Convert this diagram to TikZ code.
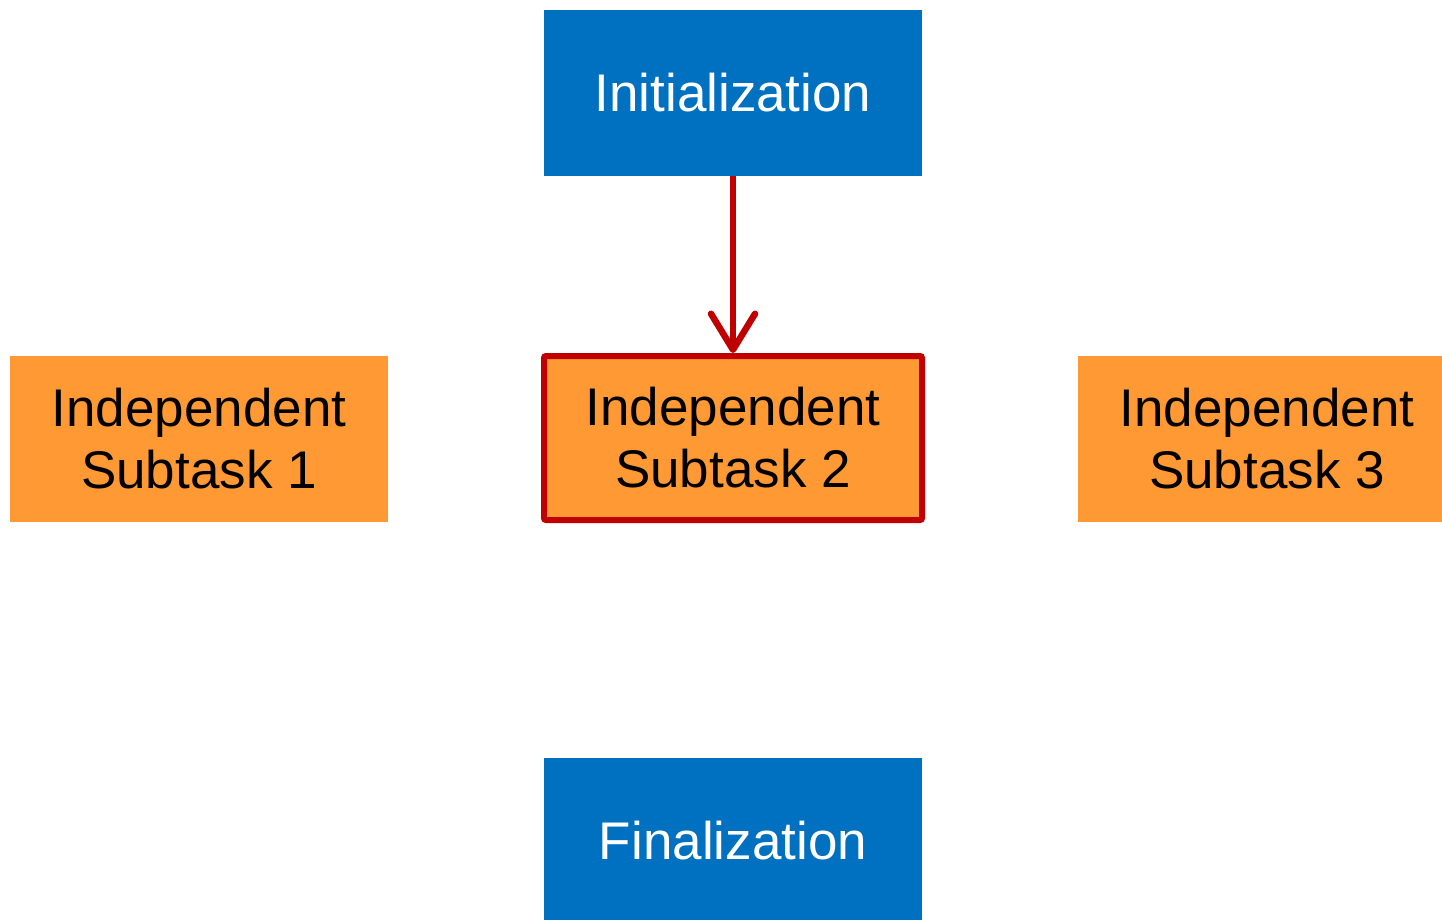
\documentclass[tikz,border=0pt]{standalone}
\usepackage{fontspec}
\setmainfont{Liberation Sans}
\usetikzlibrary{arrows.meta}
\definecolor{stageblue}{HTML}{0070C0}
\definecolor{taskorange}{HTML}{FF9933}
\definecolor{hilite}{HTML}{C00000}
\tikzset{
  stage/.style={fill=stageblue, text=white, minimum width=378pt, minimum height=166pt,
    inner sep=0pt, font=\fontsize{53}{62}\selectfont},
  task/.style={fill=taskorange, text=black, minimum width=378pt, minimum height=166pt,
    inner sep=0pt, align=center, font=\fontsize{53}{62}\selectfont},
  chosen/.style={draw=hilite, line width=6pt, rounded corners=2pt},
  flow/.style={draw=hilite, line width=6.5pt,
    -{Straight Barb[length=36pt, width=44pt, round]}}
}
\begin{document}
\begin{tikzpicture}[x=1pt, y=-1pt]
  \useasboundingbox (0,0) rectangle (1442,920);
  \begin{scope}
    \clip (0,0) rectangle (1442,920);
    \node[stage] (init) at (733,93) {Initialization};
    \node[task] (sub1) at (199,439) {Independent\\Subtask 1};
    \node[task, chosen, minimum width=378pt, minimum height=164pt] (sub2) at (733,438) {Independent\\Subtask 2};
    \node[task] (sub3) at (1267,439) {Independent\\Subtask 3};
    \node[stage] (final) at (733,841) {Finalization};
  \end{scope}
  \draw[flow] (init.south) -- (sub2.north);
\end{tikzpicture}
\end{document}
